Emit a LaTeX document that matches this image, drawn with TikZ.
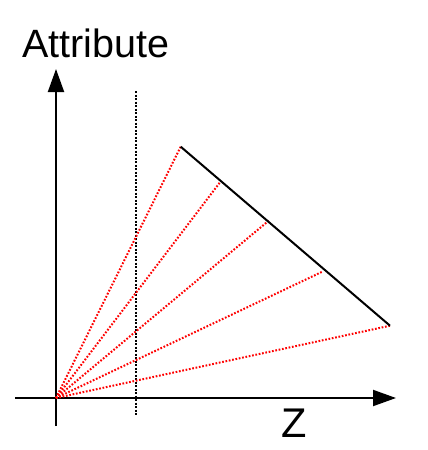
\documentclass[tikz,border=0pt]{standalone}
\usepackage{fontspec}
\setmainfont{Liberation Sans}
\usetikzlibrary{arrows.meta}
\tikzset{
  axis/.style={line width=2pt,-{Triangle[length=23pt,width=16pt]}},
  ray/.style={red,line width=2pt,dash pattern=on 1.7pt off 1.7pt},
  mark line/.style={line width=2pt,dash pattern=on 2pt off 1.5pt}
}
\begin{document}
\begin{tikzpicture}[x=1pt,y=-1pt]
\useasboundingbox (0,0) rectangle (428,450);
\coordinate (O) at (56,398);
\coordinate (xl) at (15,398);
\coordinate (xr) at (396,398);
\coordinate (yb) at (56,426);
\coordinate (yt) at (56,69);
\coordinate (vt) at (135.5,91);
\coordinate (vb) at (135.5,416);
\coordinate (p1) at (180.7,146.7);
\coordinate (p2) at (221,181);
\coordinate (p3) at (268.7,220.7);
\coordinate (p4) at (322.3,271.7);
\coordinate (p5) at (390,325.7);
% axes
\draw[axis] (xl) -- (xr);
\draw[axis] (yb) -- (yt);
\node[font=\fontsize{39.5}{42}\selectfont] (attr) at (96,43.5) {Attribute};
\node[font=\fontsize{41.5}{44}\selectfont] (zlab) at (294.5,423) {Z};
% vertical marker
\draw[mark line] (vt) -- (vb);
% rays
\foreach \p in {p1,p2,p3,p4,p5}
  \draw[ray] (O) -- (\p);
\draw[line width=2pt] (p1) -- (p5);
\end{tikzpicture}
\end{document}
